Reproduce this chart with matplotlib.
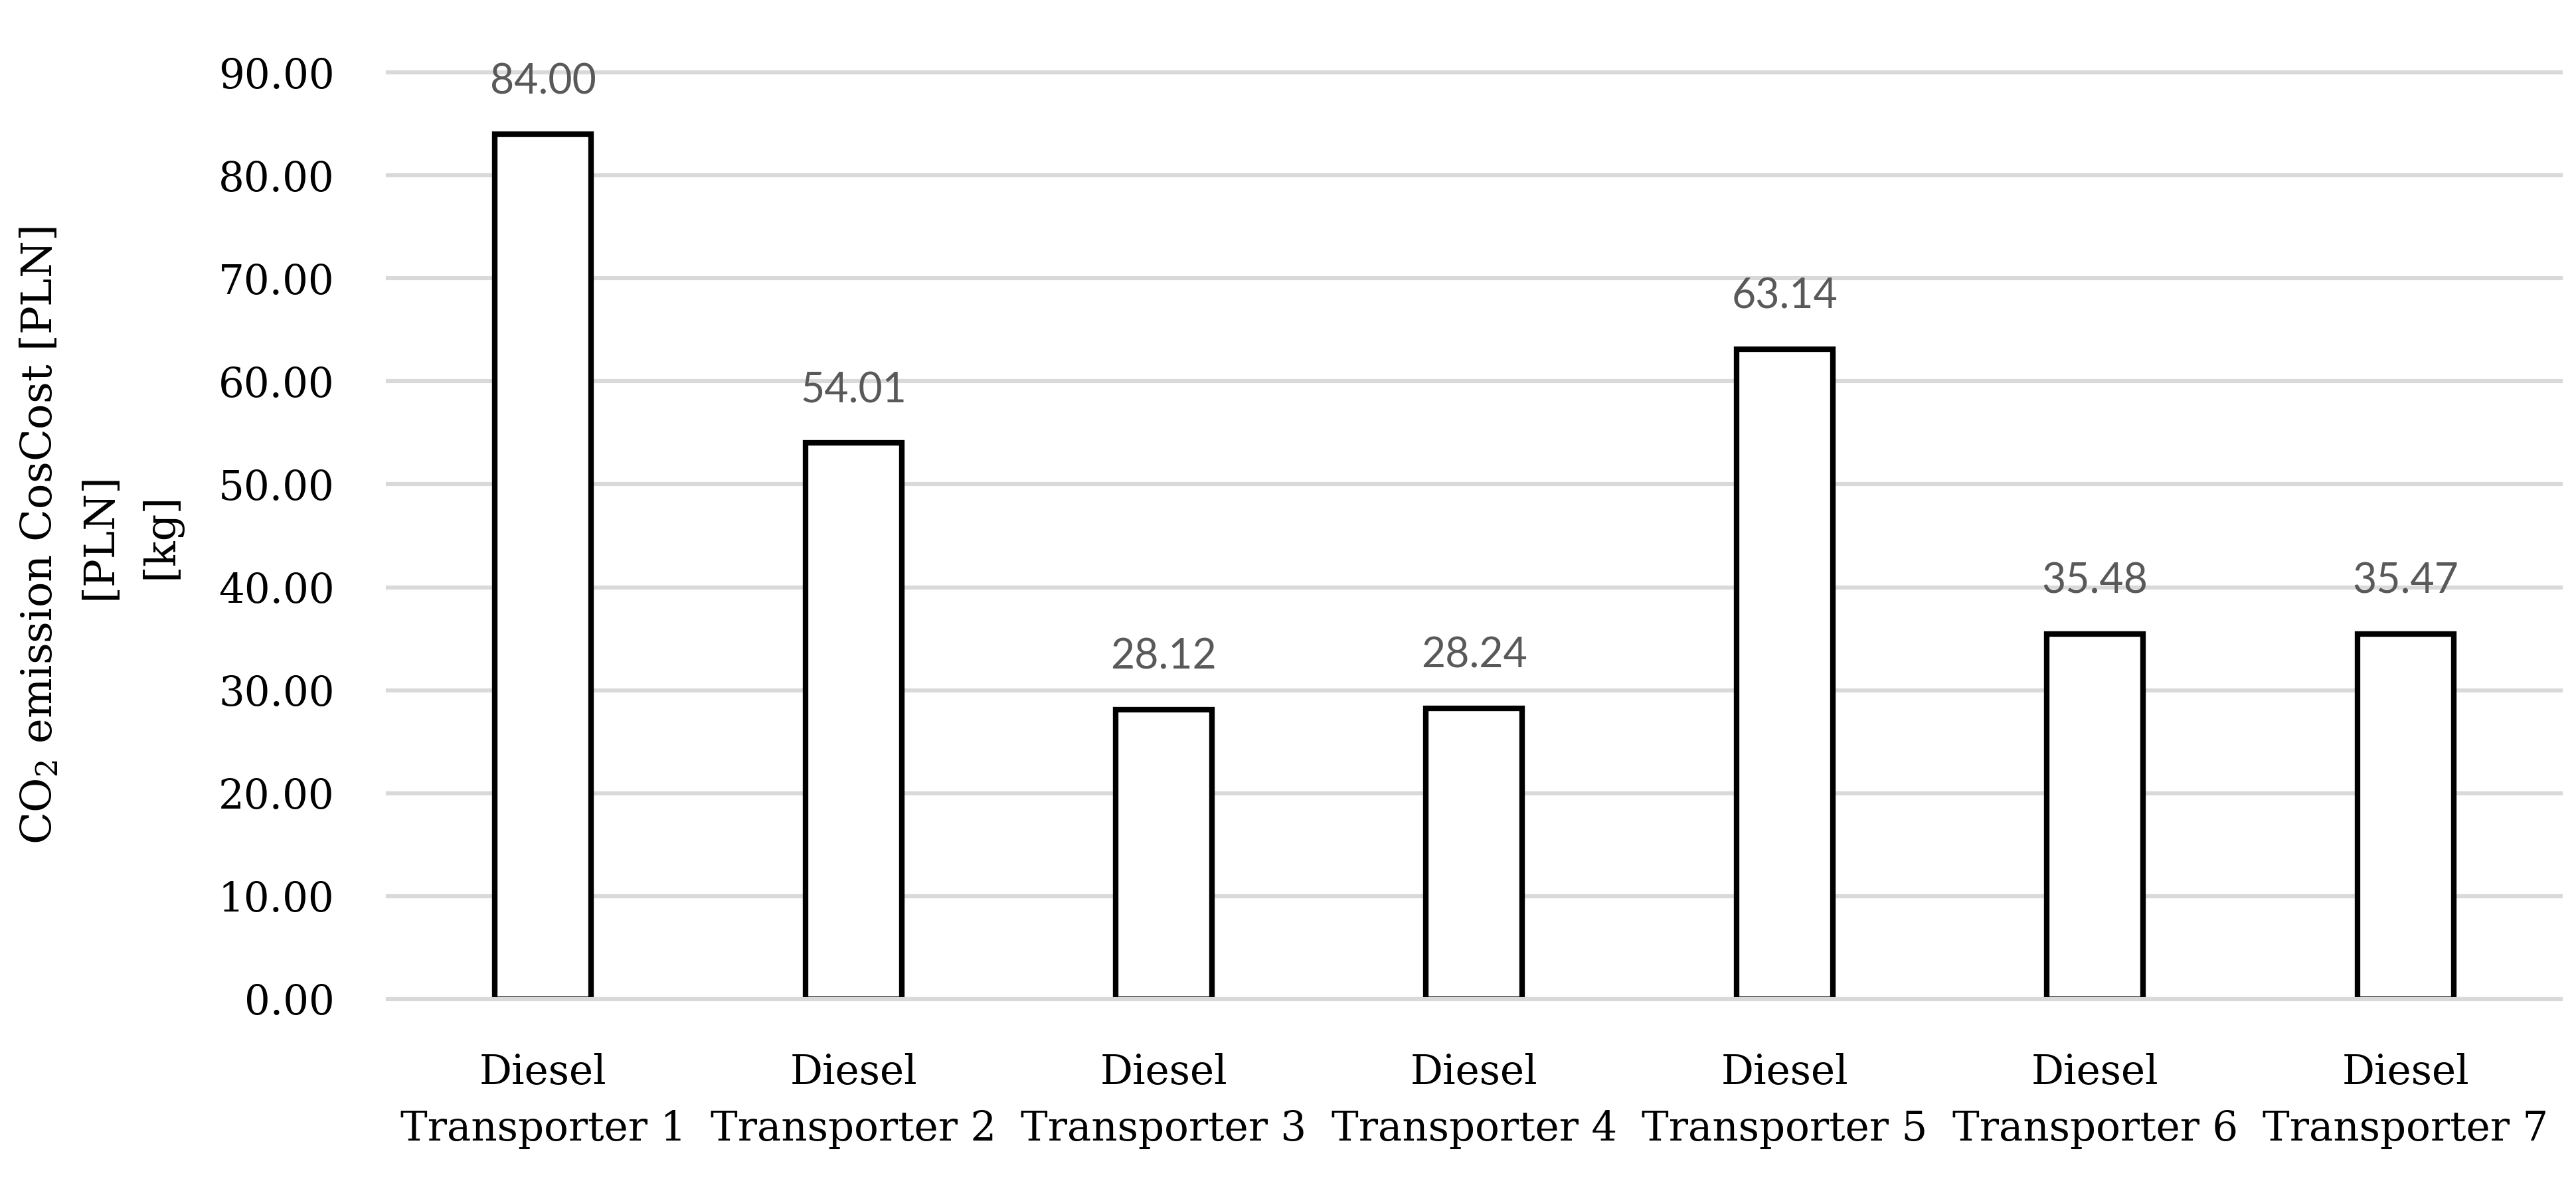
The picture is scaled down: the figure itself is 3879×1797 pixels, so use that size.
import matplotlib
matplotlib.use("Agg")
import matplotlib.pyplot as plt
import numpy as np

# values
fuel = ["Diesel"] * 7
vehicles = ["Transporter 1", "Transporter 2", "Transporter 3", "Transporter 4",
            "Transporter 5", "Transporter 6", "Transporter 7"]
co2_cost = [84.00, 54.01, 28.12, 28.24, 63.14, 35.48, 35.47]
y_ticks = [0, 10, 20, 30, 40, 50, 60, 70, 80, 90]

plt.rcParams['font.family'] = ['DejaVu Serif']
plt.rcParams['mathtext.fontset'] = 'dejavuserif'

fig = plt.figure(figsize=(19.4, 8.985), dpi=200)
ax = fig.add_axes([0.1505, 0.1625, 0.8433, 0.7768])

x = np.arange(len(vehicles))
bars = ax.bar(x, co2_cost, width=0.31, color='white', edgecolor='black',
              linewidth=3, zorder=2)

# data labels above the bars
for rect, val in zip(bars, co2_cost):
    ax.annotate("%.2f" % val, (rect.get_x() + rect.get_width() / 2, rect.get_height()),
                xytext=(0, 18), textcoords='offset points', ha='center', va='bottom',
                fontsize=22.5, color='#595959', family=['Lato', 'DejaVu Sans'])

ax.set_xlim(-0.5, len(vehicles) - 0.5)
ax.set_ylim(0, 90)
ax.set_yticks(y_ticks)
ax.set_yticklabels(["%.2f" % t for t in y_ticks])
ax.set_xticks(x)
ax.set_xticklabels([f + "\n" + v for f, v in zip(fuel, vehicles)], linespacing=1.55)

ax.tick_params(axis='both', length=0, labelsize=22)
ax.tick_params(axis='y', pad=29)
ax.tick_params(axis='x', pad=29)

ax.yaxis.grid(True, color='#d9d9d9', linewidth=2.2, zorder=0)
ax.set_axisbelow(True)
for gl in ax.get_ygridlines():
    gl.set_clip_on(False)
ax.axhline(0, color='#d9d9d9', linewidth=2.2, zorder=3)

for s in ax.spines.values():
    s.set_visible(False)

ax.set_ylabel("CO$_2$ emission CosCost [PLN]\n[PLN]\n[kg]", fontsize=23,
              linespacing=1.6, labelpad=20)

fig.savefig("out.png", dpi=200, facecolor='white')
